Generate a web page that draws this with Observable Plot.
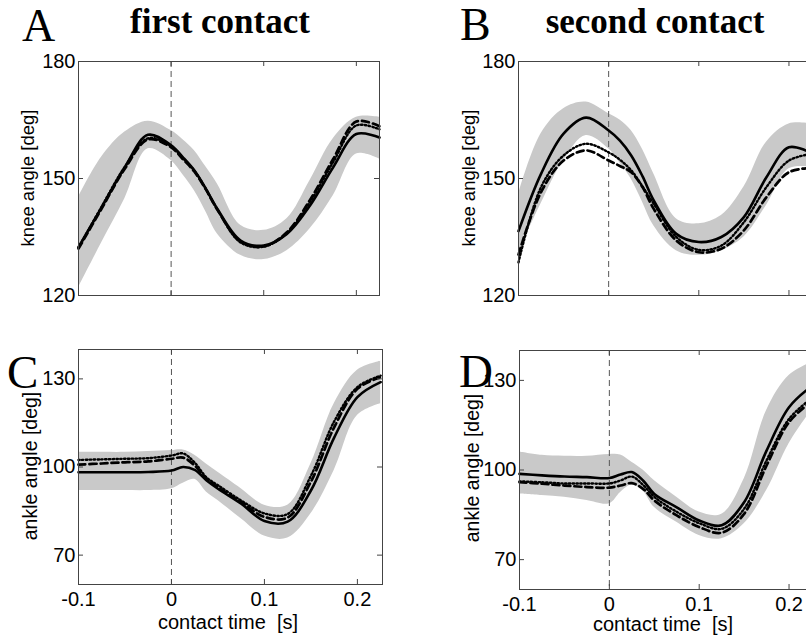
<!DOCTYPE html>
<html>
<head>
<meta charset="utf-8">
<script src="https://cdn.jsdelivr.net/npm/d3@7"></script>
<script src="https://cdn.jsdelivr.net/npm/@observablehq/plot@0.6"></script>
<style>
  html, body { margin: 0; padding: 0; background: #fff; }
  #wrap { position: relative; width: 806px; height: 638px; overflow: hidden; background: #fff; }
  .panel { position: absolute; }
  .lbl { position: absolute; white-space: pre; line-height: 1; color: #000; }
  .serif { font-family: "Liberation Serif", "Times New Roman", serif; }
  .sans { font-family: "Liberation Sans", Arial, sans-serif; }
  .rot { transform: translate(-50%, -50%) rotate(-90deg); }
  .ctr { transform: translate(-50%, -50%); }
</style>
</head>
<body>
<div id="wrap"></div>
<script>
// ---- shared sample times (s) ----
const time = [-0.1, -0.075, -0.05, -0.025, 0, 0.0125, 0.025, 0.0375, 0.05, 0.075, 0.1, 0.125, 0.15, 0.175, 0.2, 0.225];

// ---- A: knee angle, first contact ----
const solidA  = [132.4, 142.6, 152.9, 161.2, 158.5, 155.5, 152.1, 147.4, 142.2, 134.1, 132.8, 135.8, 143.1, 152.9, 161.4, 160.5];
const dashA   = [132.0, 142.3, 152.5, 160.0, 158.0, 155.0, 151.8, 147.2, 142.0, 133.8, 132.6, 136.2, 144.5, 155.0, 164.6, 163.4];
const dotA    = [132.3, 142.8, 153.0, 160.3, 158.3, 155.3, 152.0, 147.3, 142.0, 133.6, 132.5, 136.0, 144.0, 154.2, 163.6, 162.6];
const bandHiA = [145.2, 155.5, 161.9, 164.7, 162.3, 160.0, 157.2, 153.0, 148.6, 138.0, 136.7, 139.7, 149.5, 160.2, 165.7, 165.7];
const bandLoA = [122.0, 133.5, 144.8, 157.6, 154.6, 151.0, 146.9, 141.5, 135.8, 130.3, 129.2, 131.5, 137.1, 145.6, 156.3, 155.0];

// ---- B: knee angle, second contact ----
const solidB  = [136.5, 151.2, 161.5, 165.6, 162.3, 159.7, 155.9, 150.6, 144.4, 135.8, 133.7, 135.0, 140.1, 150.3, 158.0, 156.5];
const dashB   = [130.5, 146.5, 154.6, 157.2, 154.6, 153.2, 151.6, 147.8, 142.2, 134.1, 131.1, 132.0, 136.7, 145.2, 151.6, 152.7];
const dotB    = [128.5, 147.8, 155.9, 158.9, 156.7, 154.8, 152.1, 148.0, 143.5, 135.0, 131.7, 132.8, 138.8, 147.8, 154.6, 156.3];
const bandHiB = [146.0, 161.5, 167.9, 169.6, 166.6, 165.0, 162.3, 157.5, 151.2, 139.7, 138.4, 140.5, 147.8, 159.3, 164.0, 164.0];
const bandLoB = [131.0, 143.5, 154.6, 161.0, 157.6, 154.0, 149.9, 144.0, 137.9, 131.5, 130.3, 131.5, 135.0, 143.1, 152.5, 152.9];

// ---- C: ankle angle, first contact ----
const solidC  = [98.2, 98.2, 98.2, 98.3, 98.8, 100.0, 99.0, 95.5, 92.6, 87.5, 81.6, 81.4, 92.0, 110.0, 123.8, 128.9];
const dashC   = [100.8, 101.2, 101.6, 101.9, 102.8, 103.2, 100.5, 96.0, 93.1, 88.0, 83.0, 82.8, 95.0, 113.5, 126.6, 130.6];
const dotC    = [102.4, 102.6, 102.8, 103.0, 103.9, 104.6, 101.5, 96.5, 93.8, 88.6, 84.2, 84.0, 97.0, 115.5, 127.2, 131.1];
const bandHiC = [105.0, 105.0, 105.0, 105.3, 105.6, 105.8, 104.0, 101.0, 98.2, 92.6, 87.0, 87.0, 101.1, 121.5, 132.9, 136.0];
const bandLoC = [92.0, 92.0, 92.0, 92.0, 92.6, 94.5, 95.8, 91.5, 88.6, 82.4, 76.5, 75.8, 84.1, 98.8, 117.5, 121.5];

// ---- D: ankle angle, second contact ----
const solidD  = [98.7, 98.2, 97.8, 97.6, 97.3, 98.5, 99.3, 96.5, 92.0, 87.5, 83.1, 81.5, 89.2, 106.5, 121.0, 128.0];
const dashD   = [95.9, 95.4, 94.8, 94.3, 94.1, 94.8, 95.6, 93.7, 89.8, 84.8, 80.9, 79.0, 85.3, 101.5, 116.0, 123.0];
const dotD    = [96.2, 95.9, 95.5, 95.5, 95.5, 96.5, 97.8, 95.0, 91.0, 86.0, 82.2, 80.3, 87.0, 103.2, 117.1, 124.0];
const bandHiD = [106.0, 104.9, 104.6, 104.6, 105.2, 105.0, 102.6, 100.0, 96.5, 90.9, 85.9, 85.2, 97.0, 119.9, 131.6, 136.0];
const bandLoD = [92.0, 91.5, 90.9, 89.8, 88.7, 92.5, 95.0, 93.0, 87.5, 82.5, 78.1, 77.0, 82.0, 93.1, 108.8, 120.0];

// ---- tick values / labels ----
const xTicks = [-0.1, 0, 0.1, 0.2];
const kneeTicks = [120, 150, 180];
const ankleTicks = [70, 100, 130];
const panelLetters = ["A", "B", "C", "D"];
const columnTitles = ["first contact", "second contact"];
const kneeLabel = "knee angle [deg]";
const ankleLabel = "ankle angle [deg]";
const timeLabel = "contact time  [s]";

const wrap = document.getElementById("wrap");

function panel(cfg) {
  const rows = time.map((t, i) => ({t, solid: cfg.solid[i], dash: cfg.dash[i], dot: cfg.dot[i], hi: cfg.hi[i], lo: cfg.lo[i]}));
  const fh = cfg.height - cfg.mt - cfg.mb;
  const fw = cfg.width - cfg.ml - cfg.mr;
  const curve = "catmull-rom";
  const marks = [
    Plot.areaY(rows, {x: "t", y1: "lo", y2: "hi", fill: "#c9c9c9", curve}),
    Plot.ruleX([0], {stroke: "#555", strokeWidth: 1, strokeDasharray: "6,4"}),
    Plot.lineY(rows, {x: "t", y: "dot", stroke: "#000", strokeWidth: 2.4, strokeDasharray: "1.4,2.4", curve}),
    Plot.lineY(rows, {x: "t", y: "dash", stroke: "#000", strokeWidth: 2.7, strokeDasharray: "7,4", curve}),
    Plot.lineY(rows, {x: "t", y: "solid", stroke: "#000", strokeWidth: 2.6, curve}),
    Plot.frame({stroke: "#444", strokeWidth: 1}),
    // inward tick marks on all four sides
    Plot.tickX(xTicks, {x: d => d, stroke: "#444", insetTop: fh - 5}),
    Plot.tickX(xTicks, {x: d => d, stroke: "#444", insetBottom: fh - 5}),
    Plot.tickY(cfg.yTicks, {y: d => d, stroke: "#444", insetRight: fw - 5}),
    Plot.tickY(cfg.yTicks, {y: d => d, stroke: "#444", insetLeft: fw - 5}),
    Plot.axisY(cfg.yTicks, {tickSize: 0, tickPadding: 3, label: null, tickFormat: d => String(d)})
  ];
  if (cfg.xLabels) {
    marks.push(Plot.axisX(xTicks, {tickSize: 0, tickPadding: 7, label: null, tickFormat: d => String(d)}));
  }
  const svg = Plot.plot({
    width: cfg.width,
    height: cfg.height,
    marginLeft: cfg.ml, marginRight: cfg.mr, marginTop: cfg.mt, marginBottom: cfg.mb,
    x: {domain: cfg.xDomain, axis: null},
    y: {domain: cfg.yDomain, axis: null},
    style: {fontFamily: "'Liberation Sans', Arial, sans-serif", fontSize: "20px", color: "#000", background: "transparent", overflow: "visible"},
    marks
  });
  svg.classList.add("panel");
  svg.style.left = cfg.left + "px";
  svg.style.top = cfg.top + "px";
  wrap.appendChild(svg);
}

panel({left: 0, top: 0, width: 403, height: 319, ml: 78, mr: 24, mt: 61, mb: 24,
  xDomain: [-0.1, 0.225], yDomain: [120, 180], yTicks: kneeTicks,
  solid: solidA, dash: dashA, dot: dotA, hi: bandHiA, lo: bandLoA, xLabels: false});
panel({left: 403, top: 0, width: 412, height: 319, ml: 115, mr: 4, mt: 61, mb: 24,
  xDomain: [-0.1, 0.225], yDomain: [120, 180], yTicks: kneeTicks,
  solid: solidB, dash: dashB, dot: dotB, hi: bandHiB, lo: bandLoB, xLabels: false});
panel({left: 0, top: 319, width: 403, height: 319, ml: 78, mr: 21, mt: 30, mb: 54,
  xDomain: [-0.1, 0.227], yDomain: [60, 140], yTicks: ankleTicks,
  solid: solidC, dash: dashC, dot: dotC, hi: bandHiC, lo: bandLoC, xLabels: true});
panel({left: 403, top: 319, width: 412, height: 319, ml: 116, mr: 4, mt: 31, mb: 49,
  xDomain: [-0.1, 0.225], yDomain: [60, 140], yTicks: ankleTicks,
  solid: solidD, dash: dashD, dot: dotD, hi: bandHiD, lo: bandLoD, xLabels: true});

function label(text, cls, css) {
  const d = document.createElement("div");
  d.className = "lbl " + cls;
  d.textContent = text;
  Object.assign(d.style, css);
  wrap.appendChild(d);
}

// column titles
label(columnTitles[0], "serif ctr", {left: "220px", top: "21px", fontSize: "35px", fontWeight: "bold"});
label(columnTitles[1], "serif ctr", {left: "655px", top: "21px", fontSize: "35px", fontWeight: "bold"});
// panel letters
label(panelLetters[0], "serif", {left: "22px", top: "3px", fontSize: "46px"});
label(panelLetters[1], "serif", {left: "460px", top: "2px", fontSize: "46px"});
label(panelLetters[2], "serif", {left: "7px", top: "349px", fontSize: "47px"});
label(panelLetters[3], "serif", {left: "459px", top: "348px", fontSize: "47px"});
// y axis labels
label(kneeLabel, "sans rot", {left: "28px", top: "178px", fontSize: "18.5px"});
label(kneeLabel, "sans rot", {left: "469px", top: "178px", fontSize: "18.5px"});
label(ankleLabel, "sans rot", {left: "31px", top: "466px", fontSize: "19.5px"});
label(ankleLabel, "sans rot", {left: "473px", top: "468px", fontSize: "19.5px"});
// x axis labels
label(timeLabel, "sans ctr", {left: "228px", top: "622px", fontSize: "20px"});
label(timeLabel, "sans ctr", {left: "663px", top: "624px", fontSize: "20px"});
</script>
</body>
</html>
